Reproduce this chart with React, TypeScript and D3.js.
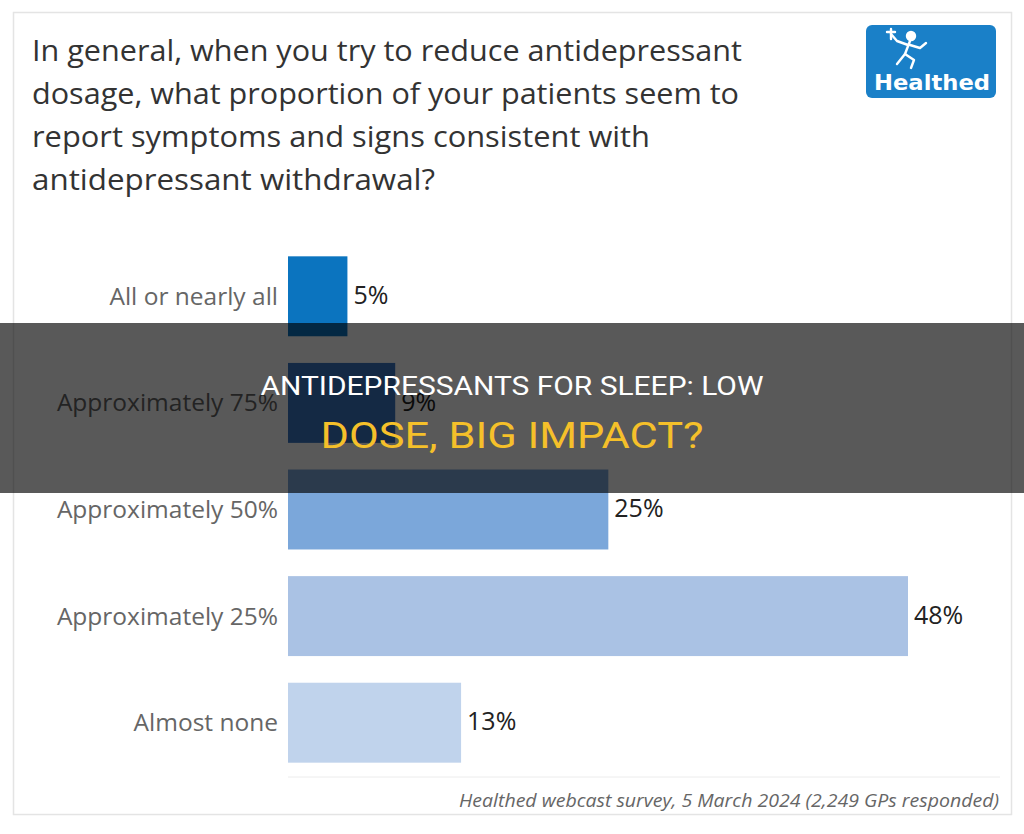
import React from "react";
import * as d3 from "d3";

const titleLines = [
  "In general, when you try to reduce antidepressant",
  "dosage, what proportion of your patients seem to",
  "report symptoms and signs consistent with",
  "antidepressant withdrawal?",
];
const titleWidths = [710, 707, 618, 403];

const categories = [
  "All or nearly all",
  "Approximately 75%",
  "Approximately 50%",
  "Approximately 25%",
  "Almost none",
];
const values = [4.6, 8.3, 24.8, 48.0, 13.4];
const valueLabels = ["5%", "9%", "25%", "48%", "13%"];
const barColors = ["#0b74bf", "#3b76c4", "#7ba7da", "#aac2e4", "#c0d3ec"];

const footnote = "Healthed webcast survey, 5 March 2024 (2,249 GPs responded)";
const overlayLines = ["ANTIDEPRESSANTS FOR SLEEP: LOW", "DOSE, BIG IMPACT?"];

const W = 1024;
const H = 834;

export default function App() {
  const x = d3.scaleLinear().domain([0, 48]).range([288, 908]);
  const y = d3
    .scaleBand<string>()
    .domain(categories)
    .range([243, 776])
    .paddingInner(0.25)
    .paddingOuter(0.125);

  const font = "'Open Sans', 'Noto Sans', sans-serif";

  return (
    <svg
      width={W}
      height={H}
      style={{ position: "absolute", left: 0, top: 0, background: "#fff" }}
    >
      <rect x={0} y={0} width={W} height={H} fill="#fff" />
      {/* card */}
      <rect x={13.5} y={12.5} width={998} height={802} fill="#fff" stroke="#e4e4e4" strokeWidth={1.5} />

      {/* title */}
      {titleLines.map((t, i) => (
        <text
          key={i}
          x={32}
          y={61 + i * 43}
          fontFamily={font}
          fontSize={29}
          fill="#333"
          textLength={titleWidths[i]}
          lengthAdjust="spacingAndGlyphs"
        >
          {t}
        </text>
      ))}

      {/* logo */}
      <g>
        <rect x={866} y={25} width={130} height={73} rx={6} fill="#1a80c8" />
        <g fill="none" stroke="#fff" strokeWidth={2.4} strokeLinecap="round" strokeLinejoin="round">
          <circle cx={911} cy={36} r={4} fill="#fff" />
          <path d="M910 41 L905 54 L897 64" />
          <path d="M910 45 L920 48 L926 43" />
          <path d="M908 45 L897 41 L891 34" />
          <path d="M905 54 L914 60 L911 68" />
          <path d="M891 29 L891 39 M887 32 L895 32" />
        </g>
        <text
          x={932}
          y={90}
          textAnchor="middle"
          fontFamily="'DejaVu Sans', sans-serif"
          fontWeight="bold"
          fontSize={22}
          fill="#fff"
          textLength={116}
          lengthAdjust="spacingAndGlyphs"
        >
          Healthed
        </text>
      </g>

      {/* bars */}
      {categories.map((c, i) => {
        const by = y(c)!;
        const bh = y.bandwidth();
        return (
          <g key={c}>
            <rect x={x(0)} y={by} width={x(values[i]) - x(0)} height={bh} fill={barColors[i]} />
            <text
              x={278}
              y={by + bh / 2}
              dy="0.35em"
              textAnchor="end"
              fontFamily={font}
              fontSize={24.5}
              fill="#666"
            >
              {c}
            </text>
            <text
              x={x(values[i]) + 6}
              y={by + bh / 2 - 1}
              dy="0.35em"
              fontFamily={font}
              fontSize={25}
              fill="#222"
            >
              {valueLabels[i]}
            </text>
          </g>
        );
      })}

      {/* baseline separator */}
      <line x1={288} x2={1000} y1={777} y2={777} stroke="#ececec" strokeWidth={1} />

      {/* footnote */}
      <text
        x={999}
        y={807}
        textAnchor="end"
        fontFamily={font}
        fontStyle="italic"
        fontSize={19}
        fill="#666"
        textLength={540}
        lengthAdjust="spacingAndGlyphs"
      >
        {footnote}
      </text>

      {/* overlay band */}
      <rect x={0} y={323} width={W} height={170} fill="rgba(0,0,0,0.65)" />
      <text
        x={512}
        y={395}
        textAnchor="middle"
        fontFamily="Roboto, 'Liberation Sans', sans-serif"
        fontSize={25}
        fill="#ffffff"
        textLength={503}
        lengthAdjust="spacingAndGlyphs"
      >
        {overlayLines[0]}
      </text>
      <text
        x={512}
        y={448}
        textAnchor="middle"
        fontFamily="Roboto, 'Liberation Sans', sans-serif"
        fontSize={36}
        fill="#f5c02a"
        textLength={383}
        lengthAdjust="spacingAndGlyphs"
      >
        {overlayLines[1]}
      </text>
    </svg>
  );
}
